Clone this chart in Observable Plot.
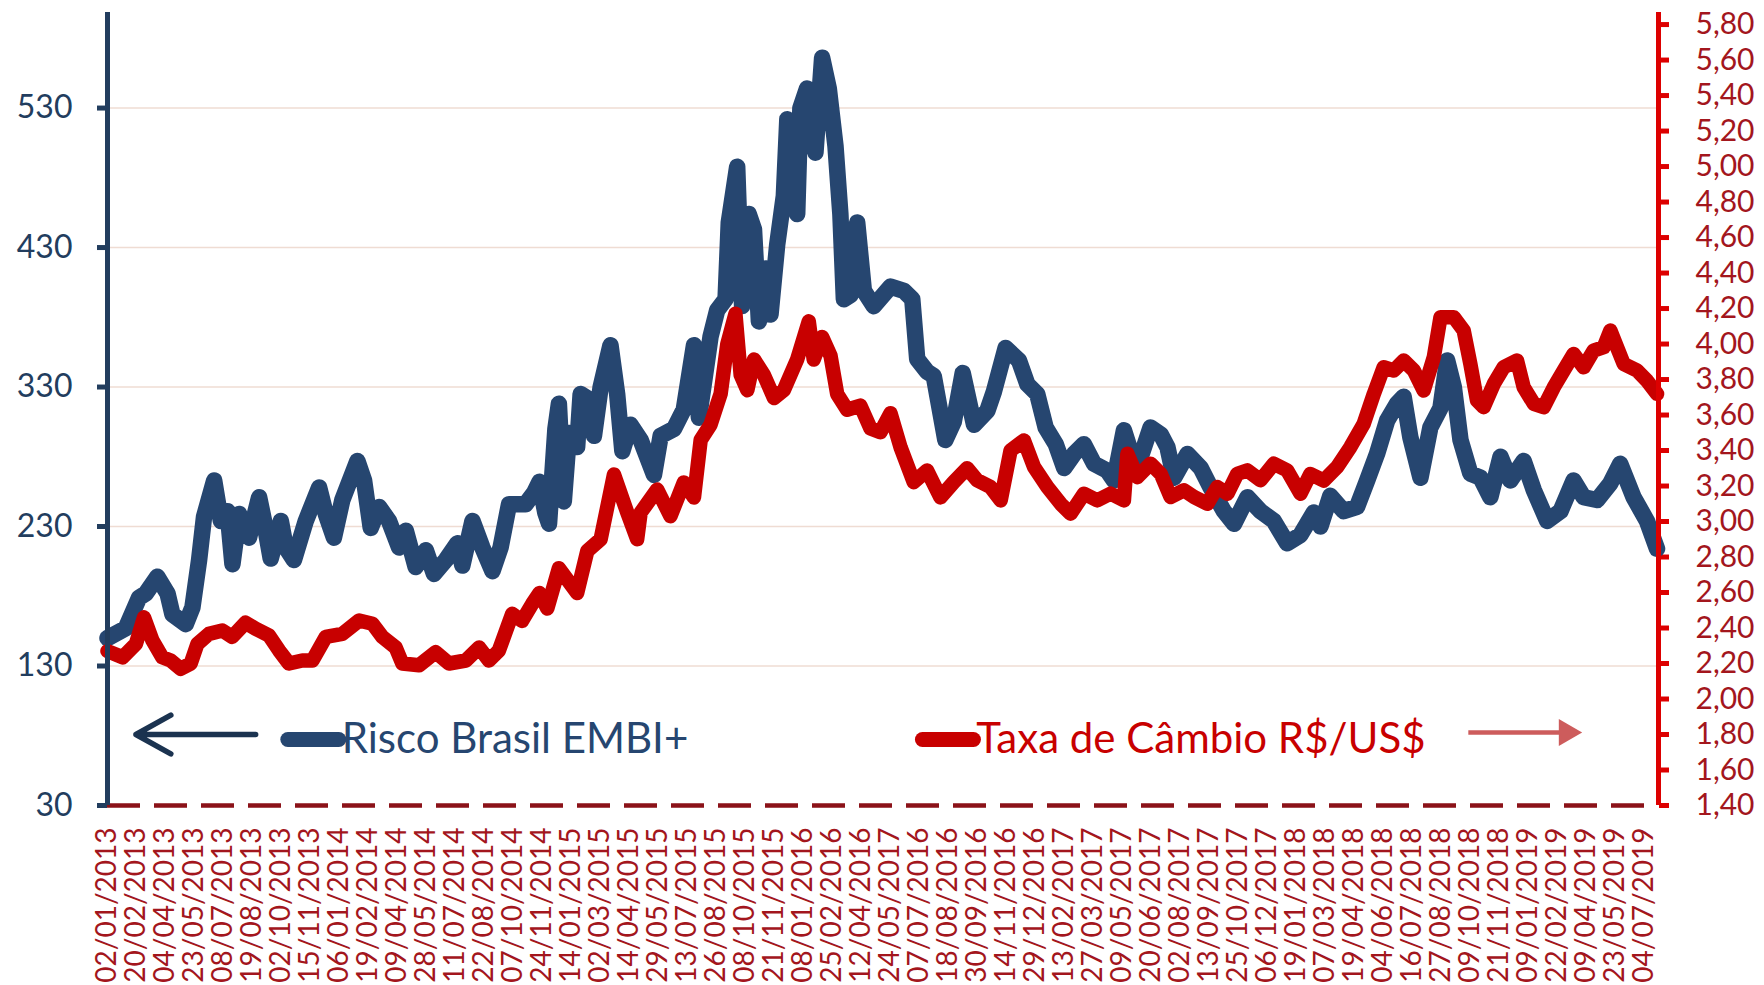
<!DOCTYPE html>
<html>
<head>
<meta charset="utf-8">
<script src="https://cdn.jsdelivr.net/npm/d3@7"></script>
<script src="https://cdn.jsdelivr.net/npm/@observablehq/plot@0.6"></script>
<style>
  html, body { margin: 0; padding: 0; background: #ffffff; }
  #chart { width: 1764px; height: 985px; }
  #chart svg text { font-family: Lato, sans-serif; }
</style>
</head>
<body>
<div id="chart"></div>
<script>
// Category labels of the x axis (one every ~30 trading days)
const dateLabels = [
  "02/01/2013","20/02/2013","04/04/2013","23/05/2013","08/07/2013","19/08/2013","02/10/2013","15/11/2013",
  "06/01/2014","19/02/2014","09/04/2014","28/05/2014","11/07/2014","22/08/2014","07/10/2014","24/11/2014",
  "14/01/2015","02/03/2015","14/04/2015","29/05/2015","13/07/2015","26/08/2015","08/10/2015","21/11/2015",
  "08/01/2016","25/02/2016","12/04/2016","24/05/2017","07/07/2016","18/08/2016","30/09/2016","14/11/2016","29/12/2016",
  "13/02/2017","27/03/2017","09/05/2017","20/06/2017","02/08/2017","13/09/2017","25/10/2017","06/12/2017",
  "19/01/2018","07/03/2018","19/04/2018","04/06/2018","16/07/2018","27/08/2018","09/10/2018","21/11/2018",
  "09/01/2019","22/02/2019","09/04/2019","23/05/2019","04/07/2019"
];

// Risco Brasil EMBI+ (left axis) — position in label units, value in points
const embiX = [0,0.63,1.09,1.32,1.72,2.07,2.24,2.7,2.93,3.16,3.33,3.68,3.91,4.14,4.31,4.54,4.88,5.23,5.4,5.63,5.98,6.15,6.43,6.84,7.3,7.53,7.81,8.1,8.62,8.85,9.08,9.37,9.71,10.06,10.29,10.63,10.98,11.26,11.67,12.07,12.24,12.59,12.93,13.28,13.56,13.85,14.42,14.71,14.9,15.1,15.23,15.45,15.57,15.74,15.92,16.2,16.32,16.55,16.78,17.01,17.35,17.58,17.76,18.04,18.39,18.85,19.08,19.54,19.88,20.23,20.4,20.8,21.03,21.32,21.43,21.72,21.89,22.12,22.3,22.47,22.7,22.87,23.1,23.33,23.45,23.79,23.9,24.13,24.42,24.65,24.88,25.11,25.28,25.4,25.63,25.86,26.09,26.43,27.01,27.47,27.76,27.93,28.27,28.5,28.9,29.19,29.5,29.89,30.35,30.58,30.98,31.44,31.73,32.07,32.36,32.71,33.0,33.34,33.68,34.03,34.49,34.72,35.06,35.29,35.64,35.98,36.33,36.56,36.79,37.25,37.71,38.05,38.51,38.86,39.32,39.77,40.23,40.69,41.15,41.61,41.84,42.18,42.64,43.1,43.45,43.79,44.14,44.48,44.71,44.94,45.29,45.63,45.98,46.21,46.44,46.67,47.01,47.36,47.7,48.05,48.39,48.85,49.2,49.66,50.12,50.57,50.92,51.38,51.84,52.18,52.64,53.1,53.45];
const embiY = [150,157,179,182,194,182,167,160,172,206,237,263,234,241,203,239,222,251,234,207,234,215,206,234,258,239,222,249,277,263,229,244,234,215,227,201,213,196,206,218,202,234,215,198,215,246,246,254,262,240,232,300,318,248,297,287,325,322,295,330,360,325,284,303,292,267,295,300,314,360,308,366,385,393,448,488,388,454,443,377,415,382,432,467,522,454,530,544,498,566,544,503,454,393,396,448,399,388,402,399,393,350,341,338,292,305,340,303,313,327,358,349,332,325,301,289,272,282,289,275,270,263,299,284,280,301,296,287,265,282,272,258,241,232,251,241,234,218,224,240,230,252,241,244,263,282,306,318,323,294,265,301,315,349,330,292,268,265,251,280,263,277,256,234,241,263,251,249,261,275,251,234,214];

// Taxa de Câmbio R$/US$ (right axis)
const cambioX = [0,0.52,0.98,1.26,1.55,1.89,2.18,2.52,2.87,3.1,3.5,3.96,4.3,4.76,5.11,5.57,5.92,6.26,6.72,7.07,7.53,8.1,8.68,9.14,9.48,9.94,10.17,10.75,11.32,11.78,12.36,12.82,13.16,13.5,13.96,14.3,14.65,14.9,15.17,15.57,16.2,16.55,17.01,17.47,17.93,18.27,18.39,18.96,19.42,19.88,20.23,20.46,20.8,21.15,21.38,21.66,21.84,22.07,22.3,22.64,22.99,23.33,23.79,24.19,24.36,24.65,24.94,25.17,25.51,25.97,26.32,26.66,27.01,27.36,27.81,28.27,28.73,29.19,29.65,30.0,30.46,30.81,31.15,31.61,31.96,32.42,32.88,33.22,33.68,34.14,34.6,35.06,35.18,35.52,35.98,36.33,36.67,37.13,37.48,37.94,38.28,38.63,38.97,39.32,39.77,40.23,40.69,41.15,41.49,41.95,42.41,42.87,43.33,43.68,44.02,44.37,44.71,45.06,45.4,45.75,45.98,46.44,46.78,47.01,47.24,47.47,47.82,48.16,48.62,48.85,49.2,49.54,49.89,50.23,50.57,50.92,51.26,51.61,51.84,52.07,52.3,52.76,53.1,53.45];
const cambioY = [2.27,2.235,2.31,2.46,2.33,2.235,2.217,2.17,2.2,2.31,2.367,2.386,2.35,2.43,2.396,2.358,2.273,2.2,2.217,2.217,2.35,2.367,2.442,2.424,2.35,2.29,2.2,2.19,2.264,2.2,2.217,2.29,2.217,2.273,2.48,2.44,2.536,2.597,2.51,2.737,2.597,2.834,2.9,3.265,3.05,2.9,3.05,3.18,3.03,3.22,3.136,3.459,3.545,3.72,4.0,4.17,3.826,3.74,3.913,3.826,3.696,3.74,3.913,4.128,3.913,4.04,3.934,3.718,3.63,3.653,3.524,3.503,3.61,3.416,3.222,3.287,3.136,3.222,3.3,3.232,3.194,3.119,3.4,3.457,3.307,3.194,3.1,3.044,3.157,3.119,3.157,3.119,3.382,3.25,3.326,3.269,3.138,3.176,3.138,3.1,3.194,3.157,3.269,3.288,3.232,3.326,3.288,3.157,3.268,3.231,3.306,3.419,3.55,3.719,3.869,3.851,3.907,3.851,3.738,3.926,4.151,4.151,4.076,3.888,3.682,3.644,3.776,3.869,3.907,3.757,3.663,3.644,3.757,3.851,3.944,3.869,3.963,3.982,4.076,3.982,3.888,3.851,3.794,3.719];

// Axis ticks
const leftTicks = [30, 130, 230, 330, 430, 530];
const gridTicks = [130, 230, 330, 430, 530];
const rightTicks = [1.4,1.6,1.8,2.0,2.2,2.4,2.6,2.8,3.0,3.2,3.4,3.6,3.8,4.0,4.2,4.4,4.6,4.8,5.0,5.2,5.4,5.6,5.8];

// Legend texts
const legendNames = ["Risco Brasil EMBI+", "Taxa de Câmbio R$/US$"];

// Colors
const navy = "#223d5e";
const blue = "#264670";
const red = "#c80000";
const darkRed = "#a3161d";
const axisRed = "#dd0000";

// Secondary axis mapped onto the primary one
const R0 = 1.4, L0 = 30, K = 127.24;
const toLeft = r => L0 + (r - R0) * K;
const fromLeft = l => R0 + (l - L0) / K;

const embi = embiX.map((x, i) => ({x, y: embiY[i]}));
const cambio = cambioX.map((x, i) => ({x, y: toLeft(cambioY[i])}));

// Legend placement (in chart units)
const legendY = 77.3;
const legendLines = [
  {name: legendNames[0], x1: 6.22, x2: 7.98, color: blue},
  {name: legendNames[1], x1: 28.11, x2: 29.87, color: red}
];
const legendSegs = legendLines.flatMap(d => [{k: d.name, x: d.x1, y: legendY, c: d.color}, {k: d.name, x: d.x2, y: legendY, c: d.color}]);

const chart = Plot.plot({
  width: 1764,
  height: 985,
  marginLeft: 107,
  marginRight: 106,
  marginTop: 12,
  marginBottom: 180,
  x: {domain: [0, 53.5]},
  y: {domain: [30, 598.5]},
  style: {fontFamily: "Lato, sans-serif", background: "#ffffff", overflow: "visible"},
  marks: [
    Plot.ruleY(gridTicks, {stroke: "#efdcd3", strokeWidth: 1.6}),
    Plot.axisX({
      ticks: d3.range(dateLabels.length),
      tickFormat: i => dateLabels[i],
      tickRotate: -90,
      tickSize: 0,
      tickPadding: 22,
      fill: darkRed,
      fontSize: 28,
      fontFamily: "Lato, sans-serif",
      label: null
    }),
    Plot.axisY({
      anchor: "left",
      ticks: leftTicks,
      tickSize: 10,
      tickPadding: 25,
      stroke: navy,
      strokeWidth: 5,
      fill: navy,
      fontSize: 32,
      fontFamily: "Lato, sans-serif",
      label: null
    }),
    Plot.axisY({
      anchor: "right",
      ticks: rightTicks.map(toLeft),
      tickFormat: d => fromLeft(d).toFixed(2).replace(".", ","),
      tickSize: 10,
      tickPadding: 27,
      stroke: axisRed,
      strokeWidth: 5,
      fill: darkRed,
      fontSize: 30,
      fontFamily: "Lato, sans-serif",
      label: null
    }),
    Plot.ruleY([30], {stroke: "#8b1218", strokeWidth: 4.5, strokeDasharray: "33,14"}),
    Plot.line(embi, {x: "x", y: "y", stroke: blue, strokeWidth: 16.5, strokeLinejoin: "round", strokeLinecap: "round"}),
    Plot.line(cambio, {x: "x", y: "y", stroke: red, strokeWidth: 14.5, strokeLinejoin: "round", strokeLinecap: "round"}),
    Plot.ruleX([0], {stroke: navy, strokeWidth: 5}),
    Plot.ruleX([53.5], {stroke: axisRed, strokeWidth: 5}),
    // legend
    Plot.arrow([{x1: 5.11, x2: 0.98, y: 80.9}], {x1: "x1", x2: "x2", y1: "y", y2: "y", stroke: "#1b3350", strokeWidth: 5.5, headLength: 30, headAngle: 58}),
    Plot.line(legendSegs, {x: "x", y: "y", z: "k", stroke: "c", strokeWidth: 15, strokeLinecap: "round"}),
    Plot.text(legendLines, {x: d => d.x2 + 0.1, y: legendY, text: "name", fill: d => d.color, fontSize: 42, fontFamily: "Lato, sans-serif", textAnchor: "start", lineAnchor: "middle"}),
    Plot.link([{x1: 46.94, x2: 50.2, y: 82.3}], {x1: "x1", x2: "x2", y1: "y", y2: "y", stroke: "#cd5c5c", strokeWidth: 4.5}),
    Plot.dot([{x: 50.33, y: 82.3}], {x: "x", y: "y", symbol: "triangle", rotate: 90, r: 10, fill: "#cd5c5c"})
  ]
});

document.getElementById("chart").appendChild(chart);
</script>
</body>
</html>
